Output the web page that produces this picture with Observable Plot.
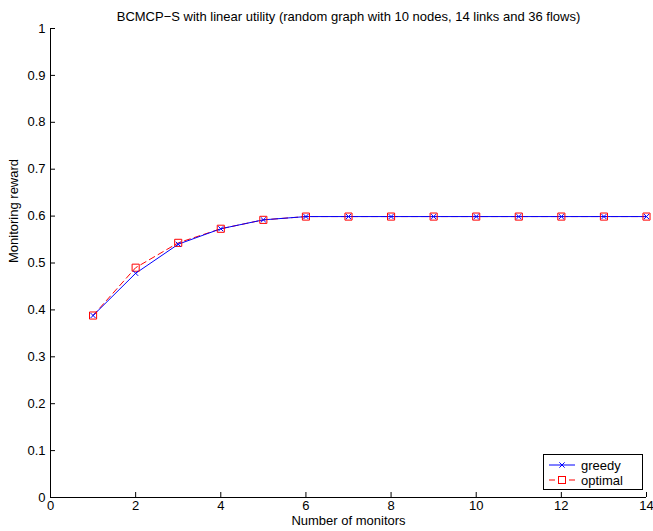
<!DOCTYPE html>
<html>
<head>
<meta charset="utf-8">
<script src="https://cdn.jsdelivr.net/npm/d3@7"></script>
<script src="https://cdn.jsdelivr.net/npm/@observablehq/plot@0.6"></script>
<style>
  body { margin: 0; background: #fff; font-family: "Liberation Sans", Arial, sans-serif; }
  #wrap { position: relative; width: 653px; height: 531px; }
  #legend { position: absolute; left: 543px; top: 454px; width: 98px; height: 34px; border: 1px solid #000; background: #fff; }
</style>
</head>
<body>
<div id="wrap"><div id="chart"></div><div id="legend"></div></div>
<script>
const monitors = [1,2,3,4,5,6,7,8,9,10,11,12,13,14];
const greedy  = [0.388,0.478,0.540,0.573,0.592,0.599,0.599,0.599,0.599,0.599,0.599,0.599,0.599,0.599];
const optimal = [0.388,0.490,0.543,0.573,0.592,0.599,0.599,0.599,0.599,0.599,0.599,0.599,0.599,0.599];
const xTicks = [0,2,4,6,8,10,12,14];
const yTicks = [0,0.1,0.2,0.3,0.4,0.5,0.6,0.7,0.8,0.9,1];
const title = "BCMCP\u2212S with linear utility (random graph with 10 nodes, 14 links and 36 flows)";
const xLabel = "Number of monitors";
const yLabel = "Monitoring reward";
const seriesNames = ["greedy","optimal"];

const gData = monitors.map((m,i)=>({x:m, y:greedy[i]}));
const oData = monitors.map((m,i)=>({x:m, y:optimal[i]}));

const chart = Plot.plot({
  width: 653, height: 531,
  marginLeft: 50, marginRight: 7, marginTop: 28, marginBottom: 34,
  style: {fontFamily: "Liberation Sans, Arial, sans-serif", fontSize: "13px", background: "#fff"},
  x: {domain: [0,14]},
  y: {domain: [0,1]},
  marks: [
    Plot.axisX({ticks: xTicks, tickSize: -5, tickPadding: 8, tickFormat: d=>String(d), label: null, fontSize: 13}),
    Plot.axisY({ticks: yTicks, tickSize: -5, tickPadding: 10, tickFormat: d=>String(d), label: null, fontSize: 13}),
    Plot.ruleX([0], {stroke: "#000"}),
    Plot.ruleY([0], {stroke: "#000"}),
    Plot.line(oData, {x:"x", y:"y", stroke:"#ff0000", strokeWidth:1, strokeDasharray:"6,4"}),
    Plot.line(gData, {x:"x", y:"y", stroke:"#0000ff", strokeWidth:1}),
    Plot.dot(oData, {x:"x", y:"y", symbol:"square", r:4, stroke:"#ff0000", fill:"none", strokeWidth:1}),
    Plot.dot(gData, {x:"x", y:"y", symbol:"times", r:2.4, stroke:"#0000ff", strokeWidth:1}),
    Plot.text([title], {frameAnchor:"top", dy:-17, fontSize:13, fill:"#000"}),
    Plot.text([xLabel], {frameAnchor:"bottom", dy:27, fontSize:13, fill:"#000"}),
    Plot.text([yLabel], {frameAnchor:"left", dx:-37, rotate:-90, fontSize:13, fill:"#000"})
  ]
});
document.getElementById("chart").appendChild(chart);

// legend
const leg = d3.select("#legend").append("svg").attr("width",98).attr("height",34)
  .style("font-family","Liberation Sans, Arial, sans-serif").style("font-size","13px");
const rows = [{name:seriesNames[0], color:"#0000ff", dash:null, sym:"times"},{name:seriesNames[1], color:"#ff0000", dash:"6,4", sym:"square"}];
rows.forEach((r,i)=>{
  const y = 10 + i*15;
  leg.append("line").attr("x1",5).attr("x2",31).attr("y1",y).attr("y2",y).attr("stroke",r.color).attr("stroke-dasharray",r.dash);
  if (r.sym==="times") {
    leg.append("path").attr("d", d3.symbol(d3.symbolTimes, 20)()).attr("transform",`translate(18,${y})`).attr("stroke",r.color).attr("fill","none");
  } else {
    leg.append("rect").attr("x",14.5).attr("y",y-3.5).attr("width",7).attr("height",7).attr("stroke",r.color).attr("fill","#fff");
  }
  leg.append("text").attr("x",37).attr("y",y+4.5).text(r.name);
});
</script>
</body>
</html>
